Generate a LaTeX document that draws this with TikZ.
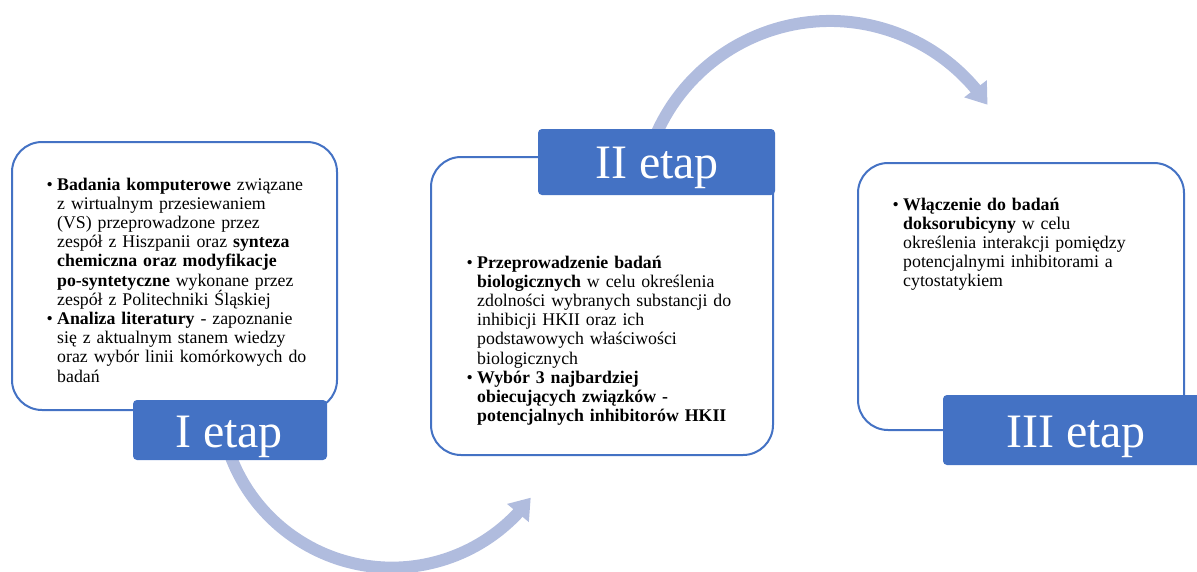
\documentclass[tikz,border=0pt]{standalone}
\usepackage{fontspec}
\setmainfont{Liberation Serif}
\usetikzlibrary{arrows.meta,bending}
\definecolor{boxblue}{RGB}{68,114,196}
\definecolor{arrowblue}{RGB}{176,188,222}
\tikzset{
 stagebox/.style={draw=boxblue, line width=2pt, fill=white, rounded corners=30pt, inner sep=0pt, outer sep=0pt},
 stagelabel/.style={fill=boxblue, rounded corners=4pt, inner sep=0pt, outer sep=0pt},
 labeltext/.style={text=white, font=\fontsize{48}{53}\selectfont, anchor=base, inner sep=0pt},
 bodytext/.style={anchor=base west, inner sep=0pt, text width=320pt, align=left, font=\fontsize{17.8}{19.2}\selectfont},
 bulletmark/.style={anchor=base west, inner sep=0pt, font=\fontsize{17.8}{19.2}\selectfont},
 flowarrow/.style={draw=arrowblue, line width=12pt, -{Triangle[length=20pt,width=27pt,flex]}},
}
\begin{document}
\begin{tikzpicture}[x=1pt,y=-1pt]
\useasboundingbox (0,0) rectangle (1197,571);
\clip (0,0) rectangle (1197,571);
% arrows
\draw[flowarrow] ([shift={(162:172.6)}]392,395) arc[start angle=162, end angle=36.5, radius=172.6];
\draw[flowarrow] ([shift={(200:190)}]830,211) arc[start angle=200, end angle=326, radius=190];
% boxes
\node[stagebox, minimum width=325pt, minimum height=268pt] (box1) at (174.5,276) {};
\node[stagebox, minimum width=342pt, minimum height=298pt] (box2) at (602,306) {};
\node[stagebox, minimum width=326pt, minimum height=267pt] (box3) at (1021,296.5) {};
% labels
\node[stagelabel, minimum width=194pt, minimum height=60pt] (lab1) at (230,430) {};
\node[stagelabel, minimum width=237pt, minimum height=66pt] (lab2) at (656.5,162) {};
\node[stagelabel, minimum width=268pt, minimum height=70pt] (lab3) at (1077,430) {};
\node[labeltext] (lt1) at (229,447) {I etap};
\node[labeltext] (lt2) at (657,178) {II etap};
\node[labeltext] (lt3) at (1076,447) {III etap};
% bullets
\node[bulletmark] (b1a) at (46.5,190) {\textbullet};
\node[bulletmark] (b1b) at (46.5,324.4) {\textbullet};
\node[bulletmark] (b2a) at (466.5,268) {\textbullet};
\node[bulletmark] (b2b) at (466.5,383.2) {\textbullet};
\node[bulletmark] (b3a) at (892.5,210) {\textbullet};
% texts
\node[bodytext] (txt1) at (57,190) {\textbf{Badania komputerowe} związane\\
z wirtualnym przesiewaniem\\
(VS) przeprowadzone przez\\
zespół z Hiszpanii oraz \textbf{synteza}\\
\textbf{chemiczna oraz modyfikacje}\\
\textbf{po-syntetyczne} wykonane przez\\
zespół z Politechniki Śląskiej\\
\textbf{Analiza literatury} - zapoznanie\\
się z aktualnym stanem wiedzy\\
oraz wybór linii komórkowych do\\
badań};
\node[bodytext] (txt2) at (477,268) {\textbf{Przeprowadzenie badań}\\
\textbf{biologicznych} w celu określenia\\
zdolności wybranych substancji do\\
inhibicji HKII oraz ich\\
podstawowych właściwości\\
biologicznych\\
\textbf{Wybór 3 najbardziej}\\
\textbf{obiecujących związków -}\\
\textbf{potencjalnych inhibitorów HKII}};
\node[bodytext] (txt3) at (903,210) {\textbf{Włączenie do badań}\\
\textbf{doksorubicyny} w celu\\
określenia interakcji pomiędzy\\
potencjalnymi inhibitorami a\\
cytostatykiem};
\end{tikzpicture}
\end{document}
